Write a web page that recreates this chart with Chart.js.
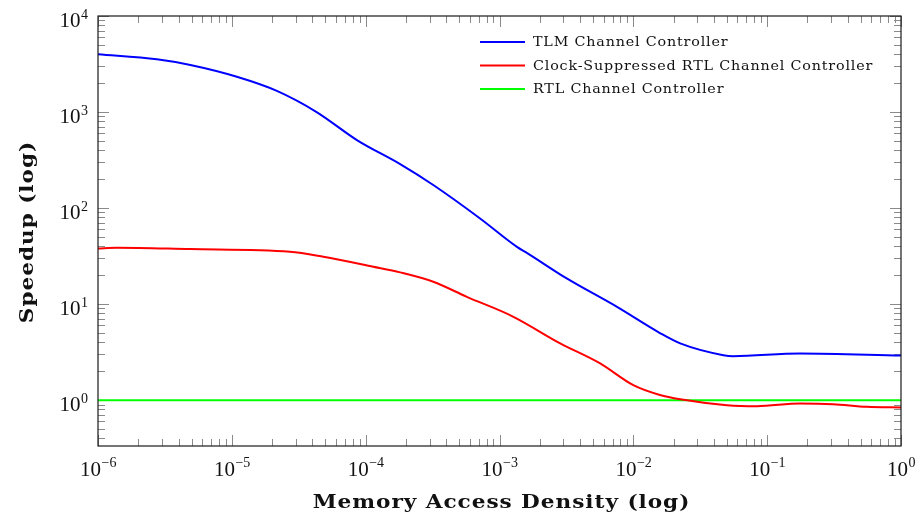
<!DOCTYPE html>
<html>
<head>
<meta charset="utf-8">
<script src="https://cdn.jsdelivr.net/npm/chart.js@4"></script>
<style>
  body { margin: 0; background: #fff; }
  canvas { display: block; }
</style>
</head>
<body>
<canvas id="grafico" width="918" height="521"></canvas>
<script>

// series: memory access density (x) vs speedup (y)
const xTLM = [1e-6, 2.75e-6, 4.9e-6, 1.09e-5, 2.17e-5, 4.3e-5, 8.6e-5, 1.81e-4, 3.2e-4, 7.16e-4,
              1.35e-3, 1.6e-3, 3.18e-3, 7.5e-3, 0.0158, 0.0224, 0.0471, 0.0557, 0.176, 1];
const yTLM = [3990, 3540, 3090, 2330, 1660, 1000, 511, 287, 174, 78,
              39.5, 34.2, 18.5, 9.4, 5.0, 3.9, 2.94, 2.87, 3.06, 2.92];

const xClockSup = [1e-6, 1.38e-6, 4.9e-6, 2.72e-5, 4.83e-5, 1.14e-4, 1.81e-4, 3.2e-4, 5.7e-4, 1.27e-3,
                   2.84e-3, 5.65e-3, 0.01, 0.0158, 0.0224, 0.05, 0.0838, 0.176, 0.311, 0.556, 1];
const yClockSup = [38.0, 38.6, 37.4, 35.1, 31.1, 24.5, 21.4, 17.1, 11.9, 7.38,
                   3.9, 2.41, 1.43, 1.13, 1.02, 0.887, 0.866, 0.924, 0.908, 0.851, 0.84];

const xRTL = [1e-6, 1];
const yRTL = [1, 1];

const nomes = ['TLM Channel Controller', 'Clock-Suppressed RTL Channel Controller', 'RTL Channel Controller'];
const cores = ['#0000ff', '#ff0000', '#00ff00'];

// tick labels are 10^exp
const xExpoentes = [-6, -5, -4, -3, -2, -1, 0];
const yExpoentes = [0, 1, 2, 3, 4];

const tituloX = 'Memory Access Density (log)';
const tituloY = 'Speedup (log)';

function pontos(xs, ys) {
    return xs.map((v, i) => ({ x: v, y: ys[i] }));
}

function sup(n) {
    return n < 0 ? '\u2212' + Math.abs(n) : String(n);
}

// pgfplots style: inward ticks on all four sides, frame, labels, legend inside
const eixosPgf = {
    id: 'eixosPgf',
    beforeDatasetsDraw(chart) {
        const { ctx, chartArea: a, scales: { x, y } } = chart;
        ctx.save();
        ctx.strokeStyle = '#8a8a8a';
        ctx.lineWidth = 1;
        ctx.beginPath();
        for (let d = -6; d <= 0; d++) {
            for (let m = 1; m <= 9; m++) {
                const v = m * Math.pow(10, d);
                if (v > x.max * 1.0001) break;
                const px = Math.round(x.getPixelForValue(v)) + 0.5;
                const len = m === 1 ? 11 : 7;
                ctx.moveTo(px, a.bottom); ctx.lineTo(px, a.bottom - len);
                ctx.moveTo(px, a.top); ctx.lineTo(px, a.top + len);
            }
        }
        for (let d = -1; d <= 4; d++) {
            for (let m = 1; m <= 9; m++) {
                const v = m * Math.pow(10, d);
                if (v < y.min || v > y.max * 1.0001) continue;
                const py = Math.round(y.getPixelForValue(v)) + 0.5;
                const len = m === 1 ? 11 : 7;
                ctx.moveTo(a.left, py); ctx.lineTo(a.left + len, py);
                ctx.moveTo(a.right, py); ctx.lineTo(a.right - len, py);
            }
        }
        ctx.stroke();
        ctx.restore();
    },
    afterDatasetsDraw(chart) {
        const { ctx, chartArea: a, scales: { x, y } } = chart;
        ctx.save();
        ctx.strokeStyle = '#1a1a1a';
        ctx.lineWidth = 1.2;
        ctx.strokeRect(a.left, a.top, a.right - a.left, a.bottom - a.top);

        const fBase = '21px "Liberation Serif"';
        const fExp = '14px "Liberation Serif"';
        ctx.fillStyle = '#111';
        ctx.textBaseline = 'alphabetic';

        // x tick labels
        xExpoentes.forEach(e => {
            const px = x.getPixelForValue(Math.pow(10, e));
            ctx.font = fBase; const w1 = ctx.measureText('10').width;
            ctx.font = fExp; const w2 = ctx.measureText(sup(e)).width;
            const x0 = px - (w1 + w2) / 2;
            ctx.textAlign = 'left';
            ctx.font = fBase; ctx.fillText('10', x0, a.bottom + 30);
            ctx.font = fExp; ctx.fillText(sup(e), x0 + w1 + 0.5, a.bottom + 21);
        });

        // y tick labels
        yExpoentes.forEach(e => {
            const py = y.getPixelForValue(Math.pow(10, e));
            ctx.font = fExp; const w2 = ctx.measureText(sup(e)).width;
            ctx.font = fBase; const w1 = ctx.measureText('10').width;
            const xr = a.left - 10;
            ctx.textAlign = 'left';
            ctx.fillText('10', xr - w2 - w1 - 0.5, py + 11);
            ctx.font = fExp; ctx.fillText(sup(e), xr - w2, py + 3);
        });

        // axis titles (bold extended look: widen the glyphs a bit)
        ctx.font = 'bold 18px "DejaVu Serif"';
        ctx.letterSpacing = '0.8px';
        ctx.textAlign = 'center';
        ctx.save();
        ctx.translate((a.left + a.right) / 2 + 2, a.bottom + 62);
        ctx.scale(1.2, 1);
        ctx.fillText(tituloX, 0, 0);
        ctx.restore();
        ctx.save();
        ctx.translate(33, (a.top + a.bottom) / 2 + 1);
        ctx.rotate(-Math.PI / 2);
        ctx.scale(1.2, 1);
        ctx.fillText(tituloY, 0, 0);
        ctx.restore();

        // legend
        ctx.font = '13px "DejaVu Serif"';
        ctx.letterSpacing = '0.75px';
        ctx.textAlign = 'left';
        ctx.textBaseline = 'middle';
        chart.data.datasets.forEach((ds, i) => {
            const ly = 42 + i * 23.5;
            ctx.strokeStyle = ds.borderColor;
            ctx.lineWidth = 2;
            ctx.beginPath();
            ctx.moveTo(480, ly); ctx.lineTo(525, ly);
            ctx.stroke();
            ctx.save();
            ctx.translate(533, ly + 1);
            ctx.scale(1.1, 1);
            ctx.fillStyle = '#111';
            ctx.fillText(ds.label, 0, 0);
            ctx.restore();
        });
        ctx.restore();
    }
};

const seriesX = [xTLM, xClockSup, xRTL];
const seriesY = [yTLM, yClockSup, yRTL];

const config = {
    type: 'scatter',
    data: {
        datasets: nomes.map((nome, i) => ({
            label: nome,
            data: pontos(seriesX[i], seriesY[i]),
            showLine: true,
            borderColor: cores[i],
            backgroundColor: cores[i],
            borderWidth: 2,
            pointRadius: 0,
            cubicInterpolationMode: 'monotone'
        }))
    },
    options: {
        responsive: false,
        animation: false,
        devicePixelRatio: 1,
        layout: { padding: { left: 98, top: 16, right: 17, bottom: 75 } },
        plugins: { legend: { display: false }, tooltip: { enabled: false } },
        scales: {
            x: { type: 'logarithmic', min: 1e-6, max: 1, bounds: 'data', display: false },
            y: { type: 'logarithmic', min: 0.333, max: 1e4, bounds: 'data', display: false }
        }
    },
    plugins: [eixosPgf]
};

new Chart(document.getElementById('grafico').getContext('2d'), config);
</script>
</body>
</html>
